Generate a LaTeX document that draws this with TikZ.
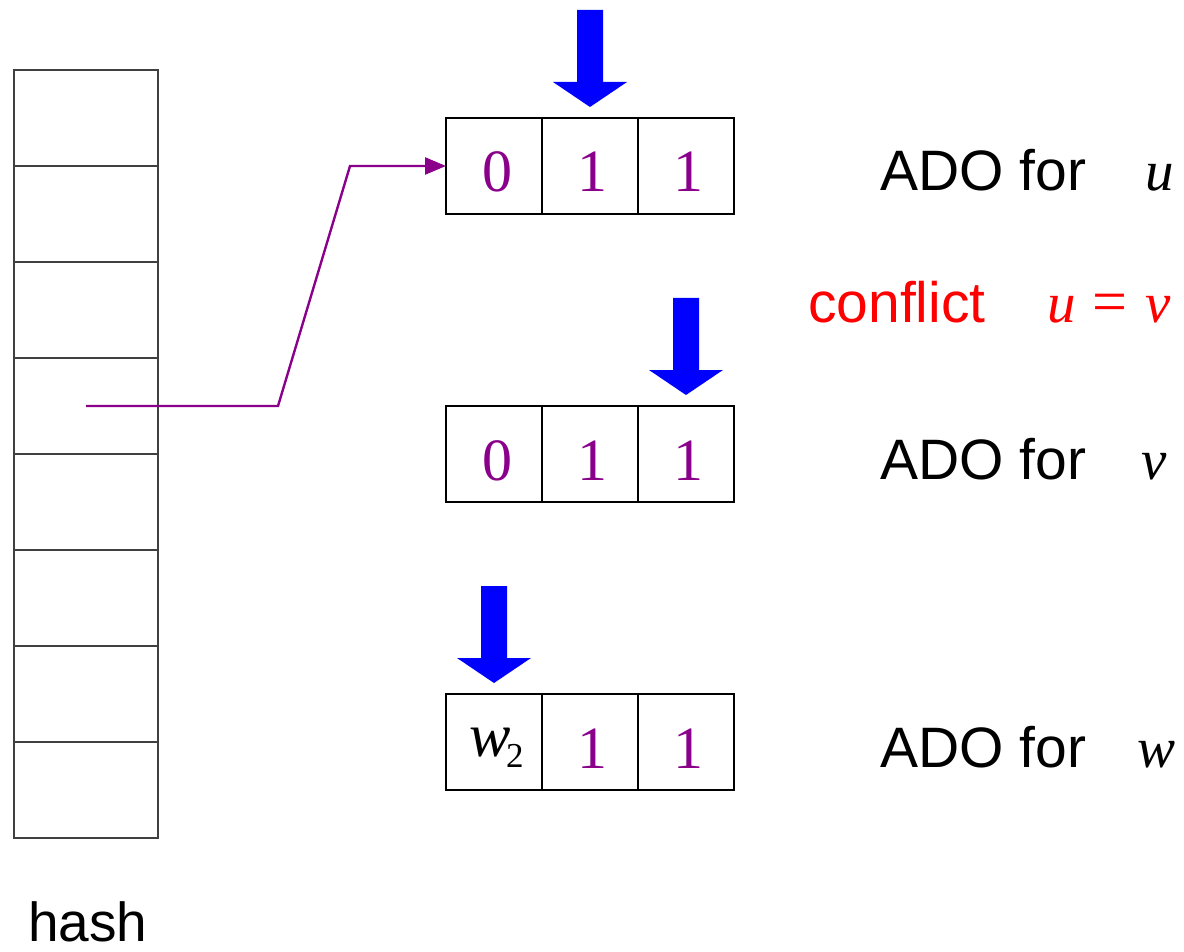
\documentclass[tikz,border=0pt]{standalone}
\usepackage{fontspec}
\setmainfont{Liberation Sans}
\newfontfamily\tms{Liberation Serif}
\usetikzlibrary{arrows.meta}
\definecolor{pur}{RGB}{139,0,139}
\definecolor{bl}{RGB}{0,0,255}
\begin{document}
\begin{tikzpicture}[x=1pt,y=-1pt,
  hcell/.style={draw=black!75,line width=1.4pt,minimum width=144pt,minimum height=96pt,inner sep=0pt,outer sep=0pt},
  acell/.style={draw=black,line width=1.4pt,minimum width=96pt,minimum height=96pt,inner sep=0pt,outer sep=0pt},
  digit/.style={anchor=base,inner sep=0pt,text=pur,font=\tms\fontsize{60}{60}\selectfont},
  lab/.style={anchor=base west,inner sep=0pt,font=\fontsize{57}{60}\selectfont},
  mlab/.style={anchor=base west,inner sep=0pt,font=\tms\itshape\fontsize{57}{60}\selectfont},
  bigarrow/.style={fill=bl,draw=none},
  link/.style={draw=pur,line width=2.4pt,-{Triangle[length=21pt,width=17pt]}}]
\useasboundingbox (0,0) rectangle (1184,952);
% hash table
\foreach \i in {1,...,8}{
  \node[hcell] (h\i) at (86,{70+96*(\i-1)+48}) {};
}
\node[lab,font=\fontsize{55}{58}\selectfont] (hash) at (28,941) {hash};
% ADO rows
\foreach \r/\y in {u/166,v/454,w/742}{
  \node[acell] (\r0) at (494,\y) {};
  \node[acell] (\r1) at (590,\y) {};
  \node[acell] (\r2) at (686,\y) {};
  \node[digit] (\r1d) at (592,\y+26) {1};
  \node[digit] (\r2d) at (688,\y+26) {1};
}
\node[digit] (u0d) at (497,192) {0};
\node[digit] (v0d) at (497,480) {0};
\node[anchor=base west,inner sep=0pt,font=\tms\itshape\fontsize{62}{62}\selectfont] (w0w) at (469,756) {w};
\node[anchor=base west,inner sep=0pt,font=\tms\fontsize{35}{35}\selectfont] (w0s) at (506,767) {2};
% labels
\node[lab] (lu) at (880,191) {ADO for};
\node[mlab] (mu) at (1145,191) {u};
\node[lab] (lv) at (880,479) {ADO for};
\node[mlab] (mv) at (1141,479) {v};
\node[lab] (lw) at (880,767) {ADO for};
\node[mlab] (mw) at (1137,767) {w};
\node[lab,text=red] (conf) at (808,322) {conflict};
\node[mlab,text=red] (ueqv) at (1047,322) {u};
\node[anchor=base west,inner sep=0pt,text=red,font=\tms\fontsize{62}{62}\selectfont] (eq) at (1092,322) {=};
\node[mlab,text=red] (vv) at (1145,322) {v};
% link
\coordinate (k1) at (278,406);
\coordinate (k2) at (350,166);
\draw[link] (h4.center) -- (k1) -- (k2) -- (u0.west);
% blue arrows
\coordinate (t1) at (590,107);
\coordinate (t2) at (686,395);
\coordinate (t3) at (494,683);
\foreach \t in {t1,t2,t3}{
  \fill[bigarrow] (\t) -- ++(-37,-25) -- ++(24,0) -- ++(0,-72) -- ++(26,0) -- ++(0,72) -- ++(24,0) -- cycle;
}
\end{tikzpicture}
\end{document}
